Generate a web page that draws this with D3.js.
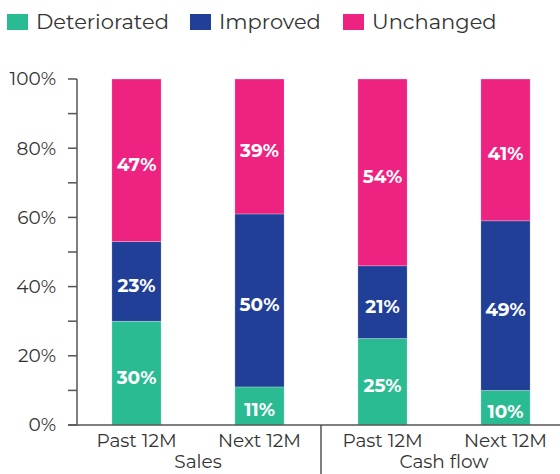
<!DOCTYPE html>
<html>
<head>
<meta charset="utf-8">
<script src="https://cdn.jsdelivr.net/npm/d3@7"></script>
<style>
  body { margin: 0; background: #fff; }
  text { font-family: "Montserrat", "DejaVu Sans", sans-serif; }
</style>
</head>
<body>
<script>
// data
var groups = ["Sales", "Cash flow"];
var periods = ["Past 12M", "Next 12M"];
var series = ["Deteriorated", "Improved", "Unchanged"];
var deteriorated = [30, 11, 25, 10];
var improved = [23, 50, 21, 49];
var unchanged = [47, 39, 54, 41];
var yTicks = [0, 20, 40, 60, 80, 100];

var colors = { "Deteriorated": "#2bbb92", "Improved": "#223f98", "Unchanged": "#ee2280" };

var width = 560, height = 474;

var rows = [];
groups.forEach(function(g, gi) {
    periods.forEach(function(p, pi) {
        var i = gi * 2 + pi;
        rows.push({ key: g + "|" + p, group: g, period: p,
            Deteriorated: deteriorated[i], Improved: improved[i], Unchanged: unchanged[i] });
    });
});

var svg = d3.select("body").append("svg")
    .attr("width", width)
    .attr("height", height);

var x = d3.scaleBand()
    .domain(rows.map(function(d) { return d.key; }))
    .range([75, 567])
    .paddingInner(0.6)
    .paddingOuter(0.3);

var y = d3.scaleLinear().domain([0, 100]).range([425, 79]);

var stacked = d3.stack().keys(series)(rows);

// y axis with minor ticks
var axisG = svg.append("g").attr("transform", "translate(77,0)");
axisG.append("line")
    .attr("x1", 0).attr("x2", 0)
    .attr("y1", y(100)).attr("y2", y(0))
    .attr("stroke", "#555").attr("stroke-width", 1.5);
axisG.selectAll(".tick")
    .data(d3.range(0, 101, 10))
    .enter().append("line")
    .attr("x1", -9).attr("x2", 0)
    .attr("y1", function(d) { return y(d); })
    .attr("y2", function(d) { return y(d); })
    .attr("stroke", "#555").attr("stroke-width", 1.5);
axisG.selectAll(".lbl")
    .data(yTicks)
    .enter().append("text")
    .attr("x", -21)
    .attr("y", function(d) { return y(d); })
    .attr("dy", "0.35em")
    .attr("text-anchor", "end")
    .attr("font-size", 18.5)
    .attr("fill", "#333")
    .text(function(d) { return d + "%"; });

// bars
var layer = svg.selectAll(".layer")
    .data(stacked)
    .enter().append("g")
    .attr("fill", function(d) { return colors[d.key]; });

layer.selectAll("rect")
    .data(function(d) { return d; })
    .enter().append("rect")
    .attr("x", function(d) { return x(d.data.key); })
    .attr("width", x.bandwidth())
    .attr("y", function(d) { return y(d[1]); })
    .attr("height", function(d) { return y(d[0]) - y(d[1]); })
    .attr("stroke", "rgba(255,255,255,0.5)")
    .attr("stroke-width", 0.5);

layer.selectAll("text")
    .data(function(d) { return d; })
    .enter().append("text")
    .attr("x", function(d) { return x(d.data.key) + x.bandwidth() / 2; })
    .attr("y", function(d) { return y((d[0] + d[1]) / 2) + 4; })
    .attr("dy", "0.35em")
    .attr("text-anchor", "middle")
    .attr("font-size", 18.5)
    .attr("font-weight", "bold")
    .attr("fill", "#fff")
    .text(function(d) { return (d[1] - d[0]) + "%"; });

// x axis baseline
svg.append("line")
    .attr("x1", 68).attr("x2", width)
    .attr("y1", y(0)).attr("y2", y(0))
    .attr("stroke", "#555").attr("stroke-width", 1.5);

// separator between groups
var sepX = (x(rows[1].key) + x(rows[2].key) + x.bandwidth()) / 2;
svg.append("line")
    .attr("x1", sepX).attr("x2", sepX)
    .attr("y1", y(0)).attr("y2", height)
    .attr("stroke", "#555").attr("stroke-width", 1.5);

// category labels
svg.selectAll(".cat")
    .data(rows)
    .enter().append("text")
    .attr("x", function(d) { return x(d.key) + x.bandwidth() / 2; })
    .attr("y", 447)
    .attr("text-anchor", "middle")
    .attr("font-size", 18.5)
    .attr("fill", "#333")
    .text(function(d) { return d.period; });

// group labels
svg.selectAll(".grp")
    .data(groups)
    .enter().append("text")
    .attr("x", function(g, gi) {
        var a = x(rows[gi * 2].key), b = x(rows[gi * 2 + 1].key);
        return (a + b + x.bandwidth()) / 2;
    })
    .attr("y", 468)
    .attr("text-anchor", "middle")
    .attr("font-size", 18.5)
    .attr("fill", "#333")
    .text(function(d) { return d; });

// legend
var legendX = [7, 190, 343];
var leg = svg.selectAll(".legend")
    .data(series)
    .enter().append("g")
    .attr("transform", function(d, i) { return "translate(" + legendX[i] + ",14)"; });
leg.append("rect")
    .attr("width", 21).attr("height", 16)
    .attr("fill", function(d) { return colors[d]; });
leg.append("text")
    .attr("x", 29).attr("y", 8)
    .attr("dy", "0.35em")
    .attr("font-size", 21)
    .attr("fill", "#333")
    .text(function(d) { return d; });
</script>
</body>
</html>
